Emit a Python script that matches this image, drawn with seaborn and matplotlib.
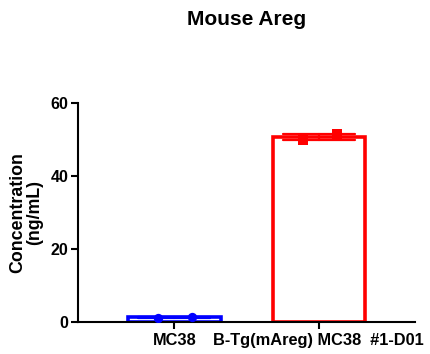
import matplotlib
matplotlib.use("Agg")
import matplotlib.pyplot as plt
import seaborn as sns
import pandas as pd

groups = ["MC38", "B-Tg(mAreg) MC38  #1-D01"]
replicate_values = {
    "MC38": [1.2, 1.4],
    "B-Tg(mAreg) MC38  #1-D01": [50.0, 51.5],
}
colors = ["#0000FF", "#FF0000"]
markers = ["o", "s"]
yticks = [0, 20, 40, 60]

rows = []
for g in groups:
    for v in replicate_values[g]:
        rows.append({"group": g, "value": v})
df = pd.DataFrame(rows)

sns.set_style("ticks")
plt.rcParams["font.family"] = ["Liberation Sans", "DejaVu Sans"]
plt.rcParams["font.weight"] = "bold"
for k in ["text.color", "axes.labelcolor", "xtick.color", "ytick.color", "axes.edgecolor"]:
    plt.rcParams[k] = "black"

fig = plt.figure(figsize=(4.31, 3.54), dpi=100)
ax = fig.add_axes([0.181, 0.0904, 0.782, 0.6186])

for i, g in enumerate(groups):
    sub = df[df["group"] == g]
    sns.barplot(data=sub, x="group", y="value", order=groups,
                color=colors[i], fill=False, width=0.64,
                linewidth=2.6, errorbar="se", capsize=0.5,
                err_kws={"linewidth": 1.6, "color": colors[i]}, ax=ax)

# individual points
offsets = [-0.11, 0.125]
for i, g in enumerate(groups):
    vals = replicate_values[g]
    xs = [i + o for o in offsets[:len(vals)]]
    sns.scatterplot(x=xs, y=vals, color=colors[i], marker=markers[i],
                    s=45, edgecolor=colors[i], linewidth=0, ax=ax, zorder=5)

ax.set_xlim(-0.667, 1.667)
ax.set_ylim(0, 60)
ax.set_yticks(yticks)
ax.set_xticks([0, 1])
ax.set_xticklabels(groups, fontsize=11.8, fontweight="bold")
ax.tick_params(axis="y", labelsize=11.5, width=1.5, length=5, pad=2)
ax.tick_params(axis="x", width=1.5, length=5, pad=3)
for lab in ax.get_yticklabels():
    lab.set_fontweight("bold")
ax.set_xlabel("")
ax.set_ylabel("Concentration\n(ng/mL)", fontsize=12.8, fontweight="bold",
              labelpad=5, linespacing=1.05)
sns.despine(ax=ax)
for s in ["left", "bottom"]:
    ax.spines[s].set_linewidth(1.5)

fig.text(0.572, 0.944, "Mouse Areg", ha="center", va="center",
         fontsize=15, fontweight="bold")

fig.savefig("out.png", dpi=100)
